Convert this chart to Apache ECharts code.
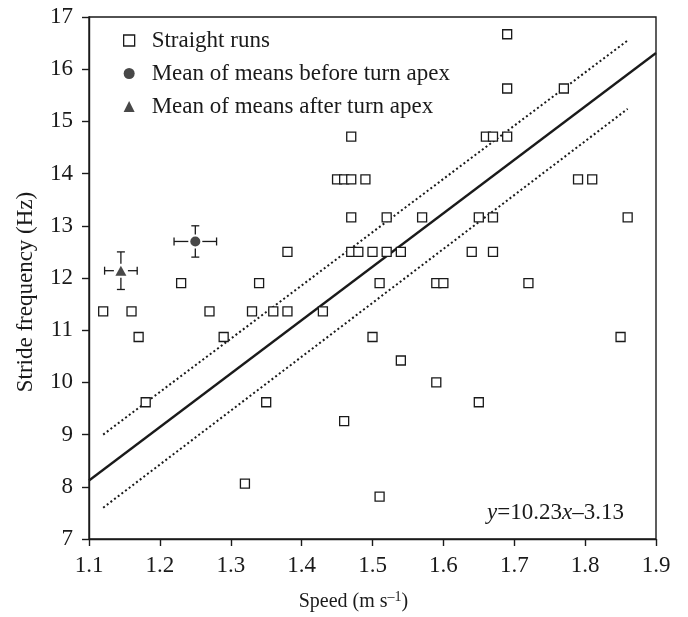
<!DOCTYPE html>
<html>
<head>
<meta charset="utf-8">
<script src="https://cdn.jsdelivr.net/npm/echarts@6/dist/echarts.min.js"></script>
<style>
  html, body { margin: 0; padding: 0; background: #fff; }
  #main { width: 688px; height: 617px; }
</style>
</head>
<body>
<div id="main"></div>
<script>
// straight runs: speed (m/s) and stride frequency (Hz)
var straightSpeed = [1.12, 1.16, 1.17, 1.18, 1.23, 1.27, 1.29, 1.32, 1.33, 1.34, 1.35, 1.36, 1.38, 1.38, 1.43,
	1.45, 1.46, 1.47, 1.49, 1.46, 1.47, 1.47, 1.47, 1.48, 1.50, 1.50, 1.51, 1.51, 1.52, 1.52, 1.54, 1.54,
	1.57, 1.59, 1.60, 1.59, 1.64, 1.65, 1.65, 1.66, 1.67, 1.67, 1.67, 1.69, 1.69, 1.69, 1.72, 1.77, 1.79,
	1.81, 1.85, 1.86];
var straightFreq = [11.36, 11.36, 10.87, 9.62, 11.90, 11.36, 10.87, 8.06, 11.36, 11.90, 9.62, 11.36, 11.36, 12.50, 11.36,
	13.89, 13.89, 13.89, 13.89, 9.26, 14.71, 13.16, 12.50, 12.50, 12.50, 10.87, 11.90, 7.81, 13.16, 12.50, 12.50, 10.42,
	13.16, 11.90, 11.90, 10.00, 12.50, 13.16, 9.62, 14.71, 14.71, 13.16, 12.50, 16.67, 15.63, 14.71, 11.90, 15.63, 13.89,
	13.89, 10.87, 13.16];

// means with error bars: [speed, freq, speed err, freq err]
var beforeApex = [1.25, 12.70, 0.03, 0.30];
var afterApex = [1.145, 12.14, 0.023, 0.36];

// regression line and the dotted band, end points
var fitLine = [[1.10, 8.12], [1.90, 16.31]];
var upperBand = [[1.12, 9.00], [1.86, 16.55]];
var lowerBand = [[1.12, 7.60], [1.86, 15.24]];

var xTicks = ['1.1', '1.2', '1.3', '1.4', '1.5', '1.6', '1.7', '1.8', '1.9'];
var yTicks = [7, 8, 9, 10, 11, 12, 13, 14, 15, 16, 17];

var ink = '#1a1a1a';
var serif = 'Liberation Serif';

var straightData = straightSpeed.map(function (s, i) { return [s, straightFreq[i]]; });

function errBars(params, api) {
	var x = api.value(0), y = api.value(1), ex = api.value(2), ey = api.value(3);
	var c = api.coord([x, y]);
	var l = api.coord([x - ex, y]), r = api.coord([x + ex, y]);
	var t = api.coord([x, y + ey]), b = api.coord([x, y - ey]);
	var g = 7, cap = 4;
	var st = { stroke: ink, lineWidth: 1.3 };
	function seg(x1, y1, x2, y2) {
		return { type: 'line', shape: { x1: x1, y1: y1, x2: x2, y2: y2 }, style: st };
	}
	return {
		type: 'group',
		children: [
			seg(l[0], c[1], c[0] - g, c[1]), seg(c[0] + g, c[1], r[0], c[1]),
			seg(l[0], c[1] - cap, l[0], c[1] + cap), seg(r[0], c[1] - cap, r[0], c[1] + cap),
			seg(c[0], t[1], c[0], c[1] - g), seg(c[0], c[1] + g, c[0], b[1]),
			seg(c[0] - cap, t[1], c[0] + cap, t[1]), seg(c[0] - cap, b[1], c[0] + cap, b[1])
		]
	};
}

var myChart = echarts.init(document.getElementById('main'));
var option = {
	animation: false,
	backgroundColor: '#fff',
	textStyle: { fontFamily: serif, color: ink },
	grid: {
		left: 89, right: 32, top: 17, bottom: 78,
		show: true, borderColor: ink, borderWidth: 1.4, backgroundColor: 'transparent'
	},
	title: {
		text: '{i|y}=10.23{i|x}–3.13',
		right: 59, top: 496,
		textStyle: {
			fontFamily: serif, fontSize: 23, fontWeight: 'normal', color: ink,
			rich: { i: { fontFamily: serif, fontSize: 23, fontStyle: 'italic', color: ink } }
		}
	},
	legend: {
		orient: 'vertical',
		left: 118, top: 24,
		itemWidth: 11, itemHeight: 11, itemGap: 10,
		textStyle: { fontFamily: serif, fontSize: 23, color: ink, padding: [0, 0, 0, 12] },
		data: [
			{ name: 'Straight runs', itemStyle: { color: '#fff', borderColor: ink, borderWidth: 1.3 }, icon: 'rect' },
			{ name: 'Mean of means before turn apex', icon: 'circle' },
			{ name: 'Mean of means after turn apex', icon: 'triangle' }
		]
	},
	xAxis: {
		type: 'value',
		min: 1.1, max: 1.9, interval: 0.1,
		splitLine: { show: false },
		axisLine: { onZero: false, lineStyle: { color: ink, width: 1.4 } },
		axisTick: { inside: false, length: 7, lineStyle: { color: ink, width: 1.4 } },
		axisLabel: {
			margin: 15, fontFamily: serif, fontSize: 23, color: ink,
			formatter: function (v) { return xTicks[Math.round((v - 1.1) * 10)]; }
		},
		name: 'Speed (m s{sup|–1})',
		nameLocation: 'middle', nameGap: 51,
		nameTextStyle: {
			fontFamily: serif, fontSize: 20, color: ink, padding: [0, 38, 0, 0],
			rich: { sup: { fontFamily: serif, fontSize: 14, verticalAlign: 'top', padding: [0, 0, 10, 0], color: ink } }
		}
	},
	yAxis: {
		type: 'value',
		min: 7, max: 17, interval: 1,
		splitLine: { show: false },
		axisLine: { onZero: false, lineStyle: { color: ink, width: 1.4 } },
		axisTick: { inside: false, length: 7, lineStyle: { color: ink, width: 1.4 } },
		axisLabel: {
			margin: 16, fontFamily: serif, fontSize: 23, color: ink,
			formatter: function (v) { return String(yTicks[Math.round(v - 7)]); }
		},
		name: 'Stride frequency (Hz)',
		nameLocation: 'middle', nameGap: 52,
		nameTextStyle: { fontFamily: serif, fontSize: 23, color: ink, padding: [0, 28, 0, 0] }
	},
	series: [
		{
			name: 'Regression',
			type: 'line',
			data: fitLine,
			symbol: 'none',
			lineStyle: { color: ink, width: 2.3 },
			z: 2
		},
		{
			name: 'Upper',
			type: 'line',
			data: upperBand,
			symbol: 'none',
			lineStyle: { color: ink, width: 2, type: [2, 2.6] },
			z: 2
		},
		{
			name: 'Lower',
			type: 'line',
			data: lowerBand,
			symbol: 'none',
			lineStyle: { color: ink, width: 2, type: [2, 2.6] },
			z: 2
		},
		{
			name: 'Straight runs',
			type: 'scatter',
			data: straightData,
			symbol: 'rect',
			symbolSize: 9,
			itemStyle: { color: '#fff', borderColor: ink, borderWidth: 1.3, opacity: 1 },
			z: 3
		},
		{
			name: 'Mean of means before turn apex',
			type: 'scatter',
			data: [[beforeApex[0], beforeApex[1]]],
			symbol: 'circle',
			symbolSize: 10,
			itemStyle: { color: ink },
			z: 4
		},
		{
			name: 'Mean of means after turn apex',
			type: 'scatter',
			data: [[afterApex[0], afterApex[1]]],
			symbol: 'triangle',
			symbolSize: [11, 10],
			itemStyle: { color: ink },
			z: 4
		},
		{
			name: 'Error bars',
			type: 'custom',
			renderItem: errBars,
			data: [beforeApex, afterApex],
			z: 4
		}
	]
};

myChart.setOption(option);
</script>
</body>
</html>
